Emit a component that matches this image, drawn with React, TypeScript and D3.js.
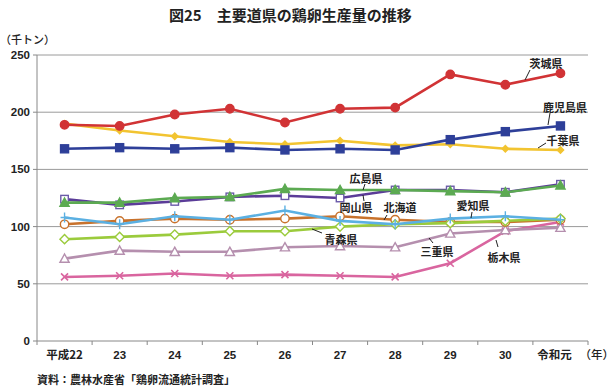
import React from 'react';
import * as d3 from 'd3';

const categories = ['平成22', '23', '24', '25', '26', '27', '28', '29', '30', '令和元'];
const yTicks = [0, 50, 100, 150, 200, 250];

const ibaraki = [189, 188, 198, 203, 191, 203, 204, 233, 224, 234];
const kagoshima = [168, 169, 168, 169, 167, 168, 167, 176, 183, 188];
const chiba = [190, 184, 179, 174, 172, 175, 171, 172, 168, 167];
const hiroshima = [121, 121, 125, 126, 133, 132, 132, 131, 130, 136];
const okayama = [124, 119, 122, 126, 127, 125, 132, 132, 130, 137];
const aichi = [108, 102, 109, 106, 114, 105, 102, 107, 109, 106];
const hokkaido = [102, 105, 107, 106, 107, 109, 106, 104, 104, 106];
const aomori = [89, 91, 93, 96, 96, 100, 102, 103, 105, 107];
const mie = [72, 79, 78, 78, 82, 83, 82, 94, 97, 99];
const tochigi = [56, 57, 59, 57, 58, 57, 56, 68, 96, 104];

type Marker = 'circle' | 'square' | 'diamond' | 'triangle' | 'plus' | 'cross';

const series: { name: string; values: number[]; color: string; marker: Marker; open: boolean }[] = [
  { name: '栃木県', values: tochigi, color: '#d9659f', marker: 'cross', open: false },
  { name: '三重県', values: mie, color: '#b58fae', marker: 'triangle', open: true },
  { name: '北海道', values: hokkaido, color: '#c8722c', marker: 'circle', open: true },
  { name: '青森県', values: aomori, color: '#9bcb3c', marker: 'diamond', open: true },
  { name: '愛知県', values: aichi, color: '#5bb0e2', marker: 'plus', open: false },
  { name: '岡山県', values: okayama, color: '#5b3c98', marker: 'square', open: true },
  { name: '広島県', values: hiroshima, color: '#5caa52', marker: 'triangle', open: false },
  { name: '千葉県', values: chiba, color: '#f2c431', marker: 'diamond', open: false },
  { name: '鹿児島県', values: kagoshima, color: '#2e3f99', marker: 'square', open: false },
  { name: '茨城県', values: ibaraki, color: '#d13335', marker: 'circle', open: false },
];

// label text position + leader line (x1,y1 -> x2,y2)
const labels = [
  { text: '茨城県', x: 546, y: 64, l: [530, 70, 525, 80] },
  { text: '鹿児島県', x: 565, y: 108, l: [550, 113, 548, 125] },
  { text: '千葉県', x: 563, y: 141, l: [546, 143, 538, 148] },
  { text: '広島県', x: 366, y: 179, l: [365, 184, 363, 190] },
  { text: '岡山県', x: 356, y: 208, l: [363, 195, 364, 201] },
  { text: '北海道', x: 400, y: 208, l: [387, 215, 384, 220] },
  { text: '愛知県', x: 473, y: 206, l: [472, 212, 471, 218] },
  { text: '青森県', x: 341, y: 240, l: [322, 233, 312, 229] },
  { text: '三重県', x: 437, y: 252, l: [433, 243, 429, 238] },
  { text: '栃木県', x: 504, y: 258, l: [498, 247, 496, 240] },
];

const W = 614;
const H = 389;
const left = 37;
const right = 588;
const top = 55;
const bottom = 341;
const font = '"Noto Sans CJK JP", "Noto Sans", sans-serif';
const numFont = '"Liberation Sans Narrow", "Liberation Sans", Arial, sans-serif';

function markerEl(m: Marker, cx: number, cy: number, color: string, open: boolean, key: string) {
  const fill = open ? '#ffffff' : color;
  const sw = 1.4;
  switch (m) {
    case 'circle':
      return <circle key={key} cx={cx} cy={cy} r={4.2} fill={fill} stroke={color} strokeWidth={sw} />;
    case 'square': {
      const s = open ? 7.5 : 8;
      return <rect key={key} x={cx - s / 2} y={cy - s / 2} width={s} height={s} fill={fill} stroke={open ? '#6a5aa8' : color} strokeWidth={sw} />;
    }
    case 'diamond': {
      const s = open ? 4.6 : 3.2;
      return <path key={key} d={`M${cx},${cy - s}L${cx + s},${cy}L${cx},${cy + s}L${cx - s},${cy}Z`} fill={fill} stroke={color} strokeWidth={sw} />;
    }
    case 'triangle': {
      const s = 4.6;
      return <path key={key} d={`M${cx},${cy - s}L${cx + s},${cy + s * 0.8}L${cx - s},${cy + s * 0.8}Z`} fill={fill} stroke={color} strokeWidth={sw} />;
    }
    case 'plus':
      return <path key={key} d={`M${cx - 4},${cy}H${cx + 4}M${cx},${cy - 5}V${cy + 5}`} stroke={color} strokeWidth={1.4} fill="none" />;
    case 'cross':
      return <path key={key} d={`M${cx - 3.5},${cy - 3.5}L${cx + 3.5},${cy + 3.5}M${cx + 3.5},${cy - 3.5}L${cx - 3.5},${cy + 3.5}`} stroke={color} strokeWidth={1.6} fill="none" />;
  }
}

export default function App() {
  const x = d3.scaleBand<string>().domain(categories).range([left, right]);
  const y = d3.scaleLinear().domain([0, 250]).range([bottom, top]);
  const cx = (c: string) => (x(c) ?? 0) + x.bandwidth() / 2;
  const line = d3
    .line<number>()
    .x((_, i) => cx(categories[i]))
    .y((d) => y(d));

  const boundaries = categories.map((c) => x(c) ?? 0).concat([right]);

  return (
    <svg width={W} height={H} style={{ position: 'absolute', left: 0, top: 0, background: '#fff' }}>
      <text x={169} y={21} fontFamily={font} fontWeight={700} fontSize={15} fill="#222">
        図25　主要道県の鶏卵生産量の推移
      </text>
      <text x={0} y={44} fontFamily={font} fontSize={11} fontWeight={500} fill="#222">
        （千トン）
      </text>

      {yTicks.map((t) => (
        <g key={t}>
          {t > 0 && <line x1={left} x2={right} y1={y(t)} y2={y(t)} stroke="#9a9a9a" strokeWidth={1} />}
          <line x1={left - 4} x2={left} y1={y(t)} y2={y(t)} stroke="#888" strokeWidth={1} />
          <text x={left - 7} y={y(t) + 4} textAnchor="end" fontFamily={numFont} fontWeight={700} fontSize={11.5} fill="#222">
            {t}
          </text>
        </g>
      ))}
      <line x1={left} x2={left} y1={top} y2={bottom} stroke="#888" strokeWidth={1} />
      <line x1={left} x2={right} y1={bottom} y2={bottom} stroke="#888" strokeWidth={1} />
      {boundaries.map((b, i) => (
        <line key={i} x1={b} x2={b} y1={bottom} y2={bottom + 4} stroke="#888" strokeWidth={1} />
      ))}
      {categories.map((c, i) => (
        <text
          key={c}
          x={cx(c) - (i === categories.length - 1 ? 6 : 0)}
          y={bottom + 18}
          textAnchor="middle"
          fontFamily={i === 0 || i === categories.length - 1 ? font : numFont}
          fontWeight={700}
          fontSize={11.5}
          fill="#222"
        >
          {c}
        </text>
      ))}
      <text x={614} y={bottom + 18} textAnchor="end" fontFamily={font} fontWeight={500} fontSize={11.5} fill="#222">
        （年）
      </text>

      {series.map((s) => (
        <g key={s.name}>
          <path d={line(s.values) ?? ''} fill="none" stroke={s.color} strokeWidth={2.6} />
          {s.values.map((v, i) => markerEl(s.marker, cx(categories[i]), y(v), s.color, s.open, `${s.name}-${i}`))}
        </g>
      ))}

      {labels.map((l) => (
        <g key={l.text}>
          <line x1={l.l[0]} y1={l.l[1]} x2={l.l[2]} y2={l.l[3]} stroke="#222" strokeWidth={1} />
          <text x={l.x} y={l.y + 4} textAnchor="middle" fontFamily={font} fontWeight={700} fontSize={11} fill="#222">
            {l.text}
          </text>
        </g>
      ))}

      <text x={37} y={384} fontFamily={font} fontWeight={700} fontSize={11} fill="#222">
        資料：農林水産省「鶏卵流通統計調査」
      </text>
    </svg>
  );
}
